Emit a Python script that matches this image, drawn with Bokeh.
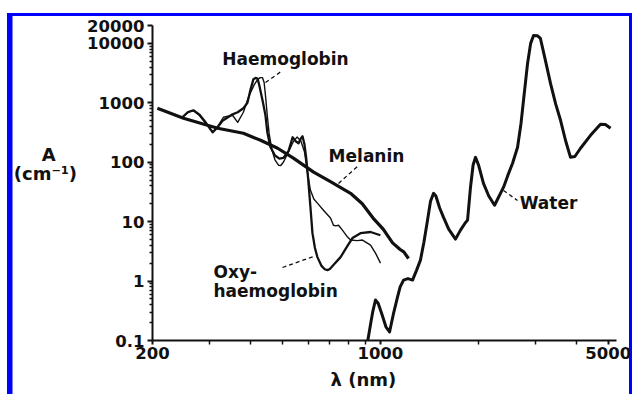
import math
from bokeh.plotting import figure
from bokeh.models import Range1d, FixedTicker, CustomJSTickFormatter, Label, Title
from bokeh.embed import file_html
from bokeh.resources import INLINE

# ---- data ----
mel_nm = [207, 249, 317, 380, 429, 484, 541, 624, 703, 810, 880, 956, 1020, 1090, 1150, 1180, 1220]
mel_A = [810, 550, 373, 307, 234, 172, 117, 68, 47, 30, 20, 11, 7.5, 4.4, 3.4, 3.1, 2.4]

hbo2_nm = [247, 257, 267, 278, 291, 306, 317, 328, 339, 352, 365, 380, 391, 400, 408, 414, 420, 425,
           435, 444, 450, 460, 475, 490, 504, 523, 538, 550, 561, 570, 577, 585, 592, 600, 610, 619,
           630, 641, 660, 675, 688, 700, 720, 755, 790, 821, 869, 933, 1000]
hbo2_A = [571, 700, 748, 640, 470, 319, 389, 500, 560, 640, 693, 809, 1000, 1700, 2500, 2620, 2550, 2000,
          1100, 620, 320, 180, 130, 115, 118, 155, 263, 225, 208, 250, 273, 200, 120, 55, 18, 6.4,
          3.6, 2.53, 1.8, 1.58, 1.53, 1.6, 1.9, 2.53, 3.8, 5.3, 6.4, 6.7, 5.9]

hb_nm = [247, 257, 267, 278, 291, 306, 317, 330, 352, 365, 380, 391, 400, 410, 420, 428, 435, 440,
         445, 450, 456, 465, 475, 487, 495, 504, 523, 540, 555, 570, 585, 598, 610, 625, 641, 669,
         703, 718, 730, 744, 765, 793, 810, 850, 881, 933, 966, 1001]
hb_A = [571, 690, 740, 620, 450, 320, 400, 571, 617, 470, 693, 1100, 1500, 2000, 2450, 2650, 2650, 2200,
        1200, 600, 300, 160, 110, 89, 88, 100, 150, 220, 265, 230, 150, 65, 34, 24, 20.5, 15.6,
        11.5, 8.7, 8.5, 8.7, 7.2, 5.5, 4.9, 4.8, 4.9, 4.03, 2.96, 2.01]

water_nm = [915, 935, 947, 966, 985, 1008, 1040, 1067, 1098, 1129, 1150, 1178, 1215, 1255, 1290, 1327,
            1360, 1395, 1425, 1456, 1480, 1520, 1561, 1620, 1700, 1761, 1820, 1851, 1890, 1925, 1958,
            2000, 2071, 2150, 2240, 2387, 2460, 2544, 2635, 2700, 2748, 2828, 2890, 2950, 3030, 3097,
            3200, 3327, 3450, 3570, 3700, 3830, 3950, 4111, 4412, 4734, 4900, 5082]
water_A = [0.1, 0.2, 0.3, 0.48, 0.42, 0.29, 0.17, 0.139, 0.29, 0.54, 0.8, 1.04, 1.1, 1.04, 1.5, 2.25,
           4.5, 10.6, 22, 30, 27, 17, 11.9, 7.5, 5.08, 7.2, 9.5, 10.6, 38, 90, 121,
           90, 44, 27, 18.9, 38, 60, 96, 179, 450, 1100, 4600, 10000, 13600, 13500, 12100,
           5500, 2100, 950, 508, 230, 121, 125, 172, 284, 435, 430, 373]

x_ticks = [200, 1000, 5000]
x_minor = [300, 400, 500, 600, 700, 800, 900, 2000, 3000, 4000]
y_ticks = [0.1, 1, 10, 100, 1000, 10000, 20000]
y_minor = [0.2, 0.3, 0.4, 0.5, 0.6, 0.7, 0.8, 0.9,
           2, 3, 4, 5, 6, 7, 8, 9,
           20, 30, 40, 50, 60, 70, 80, 90,
           200, 300, 400, 500, 600, 700, 800, 900,
           2000, 3000, 4000, 5000, 6000, 7000, 8000, 9000]

FONT = "DejaVu Sans"
INK = "#111111"
BLUE = "#0000ff"

# frame geometry (pixels)
W, H = 633, 394
L, R, T, B = 152, 17, 25, 54
X0, X1 = 200, 5300
Y0, Y1 = 0.1, 20000

def px_x(px):
    fw = W - L - R
    return X0 * 10 ** ((px - L) / fw * math.log10(X1 / X0))

def px_y(py):
    fh = H - T - B
    return Y1 / 10 ** ((py - T) / fh * math.log10(Y1 / Y0))

p = figure(width=W, height=H, x_axis_type="log", y_axis_type="log",
           x_range=Range1d(X0, X1), y_range=Range1d(Y0, Y1),
           output_backend="svg", toolbar_location=None,
           min_border_left=L, min_border_right=R, min_border_top=T, min_border_bottom=B)
p.outline_line_color = None
p.grid.visible = False
p.background_fill_color = "white"
p.border_fill_color = None
# blue picture frame drawn as inset shadows on the plot element
p.styles = {"box-shadow": ", ".join([
    "inset 7px 0 0 0 #ffffff", "inset 0 13px 0 0 #ffffff", "inset -1px 0 0 0 #ffffff",
    f"inset 12.5px 0 0 0 {BLUE}", f"inset 0 16px 0 0 {BLUE}", f"inset -4px 0 0 0 {BLUE}"])}

fmt = CustomJSTickFormatter(code="return tick.toString();")

xa = p.xaxis[0]
xa.ticker = FixedTicker(ticks=x_ticks, minor_ticks=x_minor)
xa.formatter = fmt
xa.major_tick_out = 4
xa.major_tick_in = 0
xa.minor_tick_out = 4
xa.minor_tick_in = 0
xa.major_label_standoff = 2

ya = p.yaxis[0]
ya.ticker = FixedTicker(ticks=y_ticks, minor_ticks=y_minor)
ya.formatter = fmt
ya.major_tick_out = 5
ya.major_tick_in = 0
ya.minor_tick_out = 3
ya.minor_tick_in = 0
ya.major_label_standoff = 3
ya.axis_label = "A\u00a0\u00a0\u2002\n(cm\u207b\u00b9)\n\n"
ya.axis_label_orientation = "horizontal"
ya.axis_label_standoff = 7
ya.axis_label_text_line_height = 0.92

for ax in (xa, ya):
    ax.axis_line_width = 2
    ax.axis_line_color = INK
    ax.major_tick_line_width = 2
    ax.major_tick_line_color = INK
    ax.minor_tick_line_width = 1.5
    ax.minor_tick_line_color = INK
    ax.major_label_text_font = FONT
    ax.major_label_text_font_style = "bold"
    ax.major_label_text_font_size = "16.5px"
    ax.major_label_text_color = INK
    ax.axis_label_text_font = FONT
    ax.axis_label_text_font_style = "bold"
    ax.axis_label_text_font_size = "18px"
    ax.axis_label_text_color = INK

xt = Title(text="\u03bb (nm)", align="left", offset=178, standoff=10,
           text_font=FONT, text_font_style="bold", text_font_size="18px", text_color=INK)
p.add_layout(xt, "below")

# curves
p.line(mel_nm, mel_A, line_width=3.2, line_color=INK, line_join="round")
p.line(water_nm, water_A, line_width=3, line_color=INK, line_join="round")
p.line(hbo2_nm, hbo2_A, line_width=2.3, line_color=INK, line_join="round")
p.line(hb_nm, hb_A, line_width=1.4, line_color=INK, line_join="round")

# leader lines (pixel endpoints)
leaders = [((265, 82), (282, 70)), ((338, 183), (358, 165)),
           ((282, 267), (313, 256)), ((503, 190), (517, 200))]
for (a, b) in leaders:
    p.line([px_x(a[0]), px_x(b[0])], [px_y(a[1]), px_y(b[1])],
           line_width=1.3, line_color=INK, line_dash="4 3")

def lab(txt, px, py, align="center", size="17px"):
    p.add_layout(Label(x=px_x(px), y=px_y(py), text=txt, text_font=FONT,
                       text_font_style="bold", text_font_size=size, text_color=INK,
                       text_align=align, text_baseline="middle"))

lab("Haemoglobin", 285, 58)
lab("Melanin", 366, 155)
lab("Water", 548, 202)
lab("Oxy-", 213, 271, align="left")
lab("haemoglobin", 213, 290, align="left")

open("out.html", "w").write(file_html(p, INLINE))
